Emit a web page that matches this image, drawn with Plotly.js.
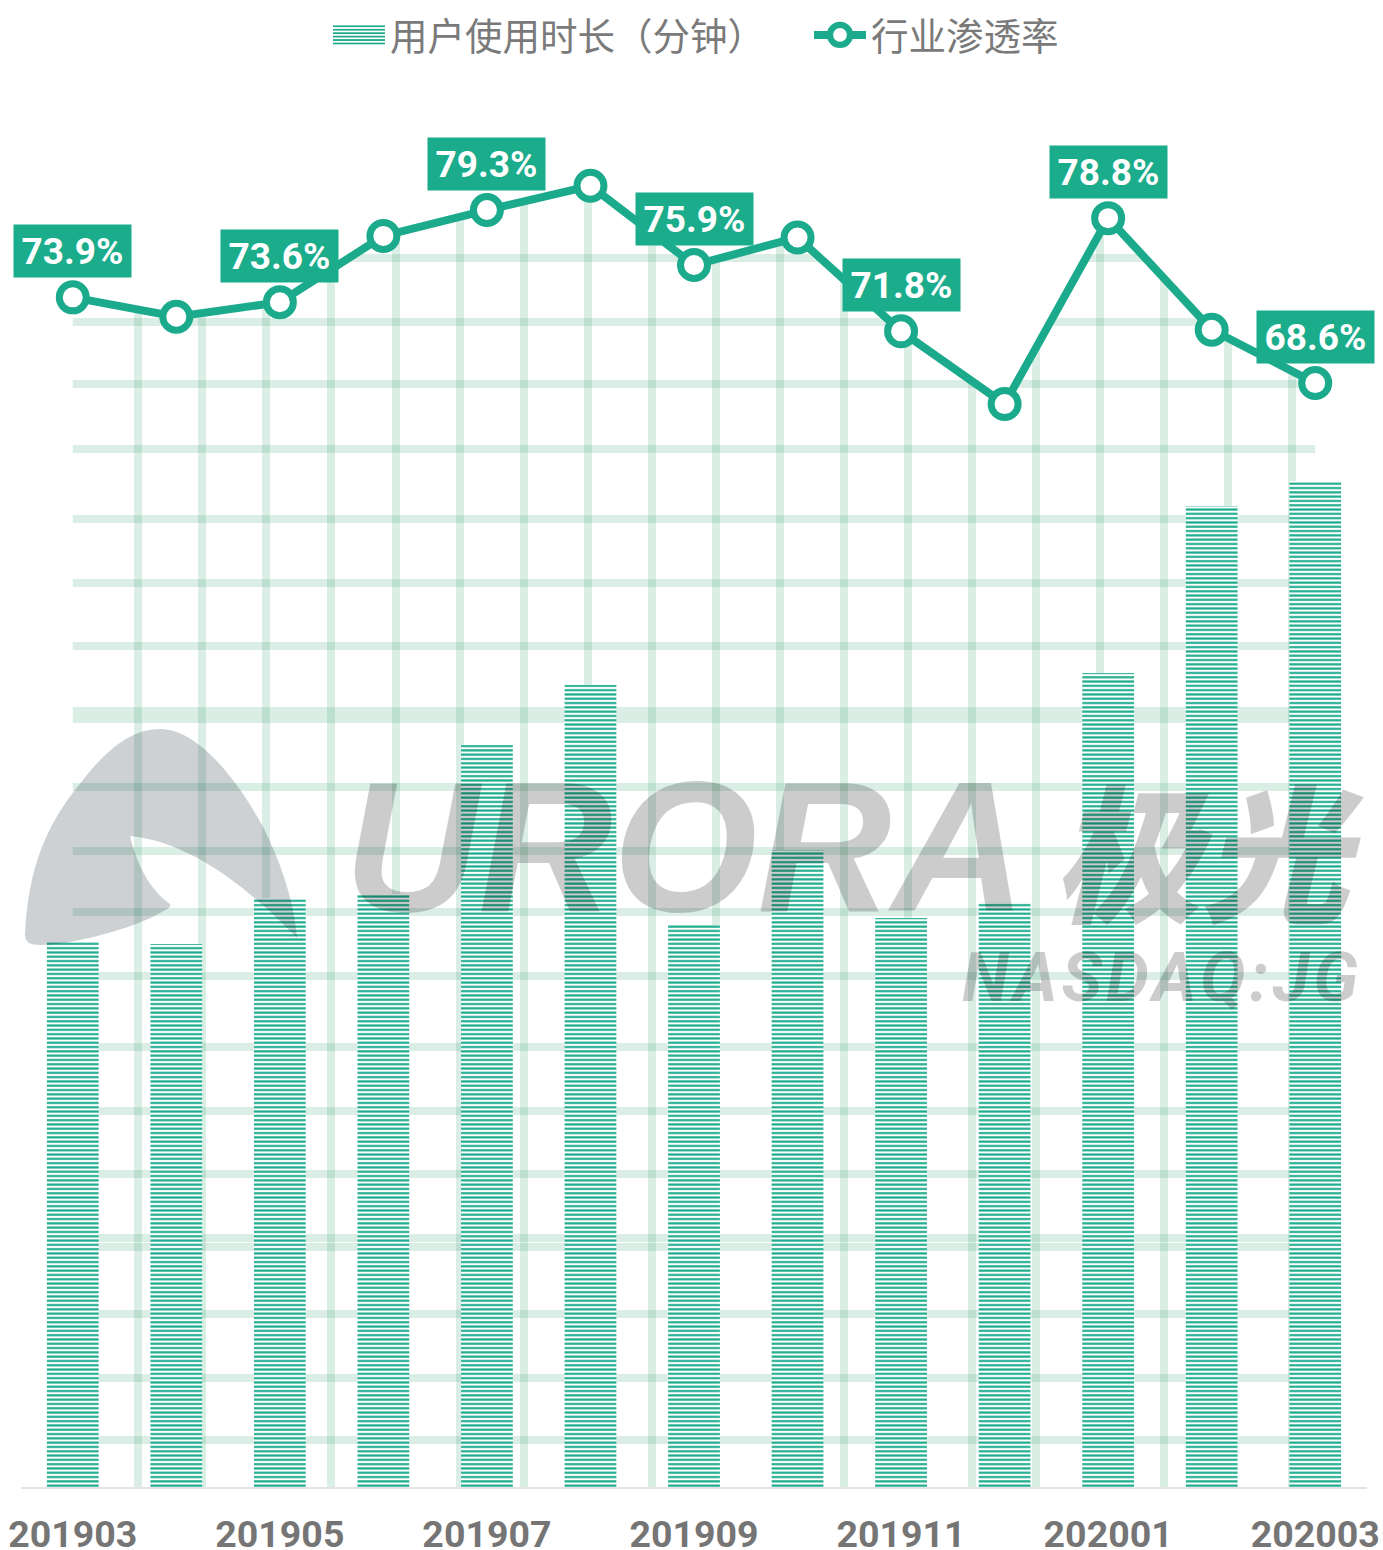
<!DOCTYPE html>
<html><head><meta charset="utf-8">
<script src="https://cdn.plot.ly/plotly-3.0.1.min.js"></script>
<style>html,body{margin:0;padding:0;background:#fff}#c{width:1383px;height:1550px}</style>
</head><body><div id="c"></div>
<script>
const months = ['201903','201904','201905','201906','201907','201908','201909','201910','201911','201912','202001','202002','202003'];
const tickMonths = ['201903','201905','201907','201909','201911','202001','202003'];
const usage = [545,543,589,593,742,802,562,637,569,585,814,981,1006];
const penetration = [73.9,72.7,73.6,77.7,79.3,80.8,75.9,77.6,71.8,67.3,78.8,71.9,68.6];
const labelled = ['201903','201905','201907','201909','201911','202001','202003'];
const gridColumns = [.628,1.246,1.870,2.498,3.121,3.739,4.358,4.976,5.594,6.213,6.831,7.449,8.068,8.686,9.304,9.923,10.541,11.159,11.778];
const gridRows = [76.33,72.37,68.54,64.55,60.19,56.23,52.34,48.35,47.82,43.65,39.69,35.92,31.93,27.54,23.58,19.68,15.73,15.17,11.03,7.07,3.23];

const GREEN = '#1bab8c', GRID = 'rgba(26,149,96,0.155)', MARK = 'rgba(0,0,0,0.2)';
const W=1383,H=1550,L=21,R=16,T=0,B=63;
const PR=[0.33,92.29], UR=[0,1487];
const px=x=>(x-L)/(W-L-R), py=y=>(H-B-y)/(H-T-B);

// white cover above the line and beyond the first and last points, so the grid reads as the area under the line
const n=months.length-1;
const coverX=[-.5,0,...months.map((_,i)=>i),n,n+.5,n+.5,-.5];
const coverY=[PR[0],PR[0],...penetration,PR[0],PR[0],PR[1],PR[1],PR[0]];

const traces=[
 {type:'scatter',x:coverX,y:coverY,xaxis:'x',yaxis:'y',mode:'lines',fill:'toself',fillcolor:'#fff',
  line:{width:0,color:'#fff'},showlegend:false,hoverinfo:'skip'},
 {type:'bar',name:'用户使用时长（分钟）',x:months,y:usage,xaxis:'x2',yaxis:'y2',width:0.5,
  marker:{color:'#fff',line:{width:0},pattern:{shape:'-',size:4.3,solidity:0.5,fgcolor:GREEN,bgcolor:'#fff',fillmode:'replace'}}},
 {type:'scatter',name:'行业渗透率',x:months,y:penetration,xaxis:'x2',yaxis:'y3',mode:'lines+markers',
  line:{color:GREEN,width:8},marker:{size:27,color:'#fff',line:{color:GREEN,width:7}}}
];

const labelAnn=labelled.map(m=>{const i=months.indexOf(m);return {
  xref:'x',yref:'y',x:i,y:penetration[i],showarrow:false,yshift:46,xanchor:'center',yanchor:'middle',
  text:penetration[i].toFixed(1)+'%',bgcolor:'#1bac8c',width:117,height:52,borderpad:0,
  font:{family:'Roboto',size:37,weight:700,color:'#fff'}}});

const mark=(t,cx,cy,size,fam,extra={})=>({xref:'paper',yref:'paper',x:px(cx),y:py(cy),showarrow:false,
  xanchor:'center',yanchor:'middle',text:t,font:Object.assign({family:fam,size:size,weight:700,style:'italic',color:MARK},extra)});

const P=(x,y)=>px(x).toFixed(5)+','+py(y).toFixed(5);
const C=(a,b,c,d,e,f)=>'C'+P(a,b)+' '+P(c,d)+' '+P(e,f);
const logo='M'+P(25,935)+C(28,870,45,825,83,780)+C(110,745,135,729,160,729)+C(200,729,240,785,262,825)
 +C(280,860,294,900,297,938)+C(255,895,195,842,130,836)+C(137,865,150,890,170,904)
 +C(172,908,165,910,160,913)+C(130,930,70,945,40,945)+C(30,945,25,942,25,935)+'Z';

const layout={
 width:W,height:H,autosize:false,margin:{l:L,r:R,t:T,b:B,pad:0},
 paper_bgcolor:'#fff',plot_bgcolor:'rgba(0,0,0,0)',hovermode:false,
 font:{family:'Roboto',color:'#757575'},
 xaxis:{domain:[0,1],range:[-.5,n+.5],anchor:'y',type:'linear',tickmode:'array',tickvals:gridColumns,showticklabels:false,
   ticks:'',showgrid:true,gridcolor:GRID,gridwidth:8,zeroline:false,showline:false,fixedrange:true},
 yaxis:{domain:[0,1],range:PR,anchor:'x',tickmode:'array',tickvals:gridRows,showticklabels:false,
   ticks:'',showgrid:true,gridcolor:GRID,gridwidth:8,zeroline:false,showline:false,fixedrange:true},
 xaxis2:{domain:[0,1],type:'category',categoryorder:'array',categoryarray:months,range:[-.5,n+.5],anchor:'y2',
   tickmode:'array',tickvals:tickMonths,ticktext:tickMonths,ticks:'',ticklen:0,showgrid:false,zeroline:false,
   showline:true,linecolor:'#e4e4e4',linewidth:2,ticklabelstandoff:13,
   tickfont:{family:'Roboto',size:37.5,weight:700,color:'#757575'},fixedrange:true},
 yaxis2:{domain:[0,1],range:UR,anchor:'x2',visible:false,fixedrange:true},
 yaxis3:{domain:[0,1],range:PR,anchor:'x2',overlaying:'y2',visible:false,fixedrange:true},
 showlegend:true,
 legend:{orientation:'h',x:px(328),xanchor:'left',y:py(35),yanchor:'middle',itemwidth:52,tracegroupgap:0,
   entrywidth:414,entrywidthmode:'pixels',
   bgcolor:'rgba(0,0,0,0)',font:{family:'"Noto Sans CJK SC"',size:37.5,color:'#7a7a7a'},itemclick:false,itemdoubleclick:false},
 bargap:0.5,
 shapes:[{type:'path',xref:'paper',yref:'paper',path:logo,fillcolor:'rgba(10,25,35,0.2)',line:{width:0},layer:'above'}],
 annotations:[
  ...labelAnn,
  mark('URORA',685,846,186,'"Liberation Sans"'),
  mark('极光',1208,846,148,'"Noto Sans CJK SC"',{weight:900}),
  mark('NASDAQ:JG',1162,978,68,'Roboto')
 ]
};
Plotly.newPlot('c',traces,layout,{displayModeBar:false,staticPlot:false}).then(gd=>{
  // widen the bar swatch to the reference's legend key size
  gd.querySelectorAll('.legend path.legendundefined').forEach(p=>{
     p.setAttribute('d','M26,11H-26V-11H26Z');
  });
  gd.querySelectorAll('.legend .legendsymbols path.scatterpts').forEach(p=>{
     p.setAttribute('transform',(p.getAttribute('transform')||'')+' scale(1.25)');
  });
  gd.querySelectorAll('.annotation-text').forEach(t=>{
     if(t.textContent==='NASDAQ:JG') t.style.letterSpacing='4px';
  });
});
</script></body></html>
